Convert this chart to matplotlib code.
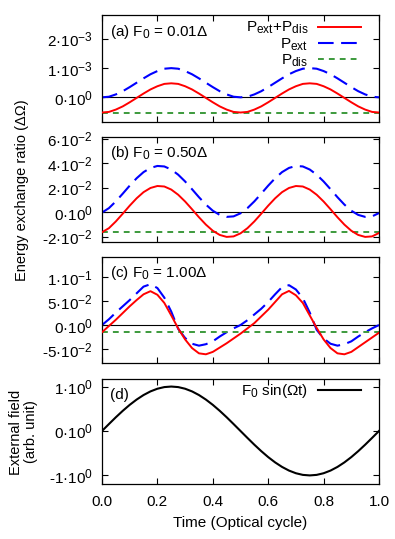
import numpy as np
import matplotlib
matplotlib.use("Agg")
import matplotlib.pyplot as plt
try:
    import matplotlib._mathtext as _mt
    _mt.SHRINK_FACTOR = 0.78
except Exception:
    pass

plt.rcParams['font.family'] = ['Liberation Sans', 'DejaVu Sans']
plt.rcParams['mathtext.fontset'] = 'custom'
plt.rcParams['mathtext.rm'] = 'Liberation Sans'
plt.rcParams['mathtext.it'] = 'Liberation Sans:italic'
plt.rcParams['mathtext.bf'] = 'Liberation Sans:bold'
FS = 11

# ---------------- data ----------------
time = np.linspace(0.0, 1.0, 41)   # optical cycle, step 0.025

# panel (a), units 1e-3
a_ext = [0.00, 0.02, 0.10, 0.21, 0.35, 0.50, 0.65, 0.79, 0.90, 0.98, 1.00, 0.98, 0.90, 0.79, 0.65, 0.50, 0.35, 0.21, 0.10, 0.02,
         0.00, 0.02, 0.10, 0.21, 0.35, 0.50, 0.65, 0.79, 0.90, 0.98, 1.00, 0.98, 0.90, 0.79, 0.65, 0.50, 0.35, 0.21, 0.10, 0.02, 0.00]
a_tot = [-0.52, -0.50, -0.42, -0.31, -0.17, -0.02, 0.13, 0.27, 0.38, 0.46, 0.48, 0.46, 0.38, 0.27, 0.13, -0.02, -0.17, -0.31, -0.42, -0.50,
         -0.52, -0.50, -0.42, -0.31, -0.17, -0.02, 0.13, 0.27, 0.38, 0.46, 0.48, 0.46, 0.38, 0.27, 0.13, -0.02, -0.17, -0.31, -0.42, -0.50, -0.52]
a_dis = [-0.52, -0.52]

# panel (b), units 1e-2
b_tot = [-1.62, -1.29, -0.74, -0.11, 0.54, 1.14, 1.64, 1.98, 2.14, 2.10, 1.85, 1.43, 0.88, 0.25, -0.40, -1.00, -1.50, -1.84, -2.00, -1.96,
         -1.71, -1.29, -0.74, -0.11, 0.54, 1.14, 1.64, 1.98, 2.14, 2.10, 1.85, 1.43, 0.88, 0.25, -0.40, -1.00, -1.50, -1.84, -2.00, -1.96, -1.68]
b_ext = [-0.02, 0.34, 0.89, 1.52, 2.17, 2.77, 3.27, 3.61, 3.77, 3.73, 3.48, 3.06, 2.51, 1.88, 1.23, 0.63, 0.13, -0.21, -0.37, -0.33,
         -0.08, 0.34, 0.89, 1.52, 2.17, 2.77, 3.27, 3.61, 3.77, 3.73, 3.48, 3.06, 2.51, 1.88, 1.23, 0.63, 0.13, -0.21, -0.37, -0.33, -0.06]
b_dis = [-1.63, -1.63]

# panel (c), units 1e-2
c_ext = [0.0, 1.2, 2.6, 3.9, 5.2, 6.6, 8.0, 8.5, 7.7, 5.7, 2.8, -0.8, -2.7, -3.9, -4.3, -4.0, -3.4, -2.4, -1.5, -0.7,
         0.0, 1.0, 2.2, 3.4, 4.8, 6.4, 7.9, 8.3, 7.4, 5.6, 2.6, -1.0, -2.8, -3.9, -4.3, -4.0, -3.4, -2.4, -1.5, -0.7, 0.0]
c_tot = [-1.5, -0.2, 1.1, 2.5, 3.9, 5.2, 6.4, 7.05, 6.3, 4.6, 2.0, -0.7, -3.0, -4.8, -5.9, -6.1, -5.6, -4.7, -3.8, -2.8,
         -1.8, -0.7, 0.4, 1.8, 3.2, 4.8, 6.4, 7.1, 6.2, 4.6, 2.0, -0.6, -3.0, -4.8, -5.9, -6.1, -5.6, -4.6, -3.6, -2.6, -1.6]
c_dis = [-1.55, -1.55]

# panel (d), external field (arb. unit)
d_field = [0.000, 0.156, 0.309, 0.454, 0.588, 0.707, 0.809, 0.891, 0.951, 0.988, 1.000, 0.988, 0.951, 0.891, 0.809, 0.707, 0.588, 0.454, 0.309, 0.156,
           0.000, -0.156, -0.309, -0.454, -0.588, -0.707, -0.809, -0.891, -0.951, -0.988, -1.000, -0.988, -0.951, -0.891, -0.809, -0.707, -0.588, -0.454, -0.309, -0.156, 0.000]

dis_time = [0.0, 1.0]

panel_labels = [r'(a) F$_0$ = 0.01Δ', r'(b) F$_0$ = 0.50Δ', r'(c) F$_0$ = 1.00Δ', '(d)']
xticks = [0.0, 0.2, 0.4, 0.6, 0.8, 1.0]
xticklabels = ['0.0', '0.2', '0.4', '0.6', '0.8', '1.0']

a_yticks = [0, 1e-3, 2e-3]
a_ylabels = ['0·10$^{0}$', '1·10$^{-3}$', '2·10$^{-3}$']
b_yticks = [-2e-2, 0, 2e-2, 4e-2, 6e-2]
b_ylabels = ['-2·10$^{-2}$', '0·10$^{0}$', '2·10$^{-2}$', '4·10$^{-2}$', '6·10$^{-2}$']
c_yticks = [-5e-2, 0, 5e-2, 1e-1]
c_ylabels = ['-5·10$^{-2}$', '0·10$^{0}$', '5·10$^{-2}$', '1·10$^{-1}$']
d_yticks = [-1, 0, 1]
d_ylabels = ['-1·10$^{0}$', '0·10$^{0}$', '1·10$^{0}$']

# ---------------- figure ----------------
W, H = 395, 539
fig = plt.figure(figsize=(W / 100, H / 100), dpi=100)

def px_axes(x0, y0, x1, y1):
    return fig.add_axes([x0 / W, 1 - y1 / H, (x1 - x0) / W, (y1 - y0) / H])

axA = px_axes(102, 15, 379, 121.7)
axB = px_axes(102, 136.7, 379, 241.7)
axC = px_axes(102, 257, 379, 362.7)
axD = px_axes(102, 379, 379, 484.3)

RED = '#ff0000'
BLUE = '#0000ff'
GREEN = '#3c9a3c'

def style(ax, yticks, ylabels, ylim, label, show_x=False):
    ax.set_xlim(0, 1)
    ax.set_ylim(*ylim)
    ax.set_xticks(xticks)
    ax.set_yticks(yticks)
    ax.set_yticklabels(ylabels)
    if show_x:
        ax.set_xticklabels(xticklabels)
    else:
        ax.set_xticklabels([])
    ax.tick_params(direction='in', length=4.5, width=0.8, top=True, right=True,
                   labelsize=FS, pad=6.5)
    ax.tick_params(axis='x', pad=8)
    for s in ax.spines.values():
        s.set_linewidth(0.9)
    ax.text(8 / 277, 1 - 16.5 / 106, label, transform=ax.transAxes,
            fontsize=FS, ha='left', va='center')

leg_kw = dict(loc='upper right', frameon=False, markerfirst=False, fontsize=FS,
              borderpad=0, borderaxespad=0, handlelength=2.8, handletextpad=0.65,
              labelspacing=0.0)

def three(ax, ext, tot, dis, scale):
    ax.axhline(0, color='black', lw=0.8, zorder=1)
    ax.plot(time, np.array(tot) * scale, color=RED, lw=1.4, label=r'P$_{\rm ext}$+P$_{\rm dis}$', zorder=3)
    ax.plot(time, np.array(ext) * scale, color=BLUE, lw=1.5, dashes=(7.5, 3.6), label=r'P$_{\rm ext}$', zorder=2)
    ax.plot(dis_time, np.array(dis) * scale, color=GREEN, lw=1.4, dashes=(3.0, 2.6), label=r'P$_{\rm dis}$', zorder=2)

three(axA, a_ext, a_tot, a_dis, 1e-3)
style(axA, a_yticks, a_ylabels, (-0.835e-3, 2.82e-3), panel_labels[0])
axA.legend(bbox_to_anchor=((361 - 102) / 277, 1 - (20 - 15) / 106.7), **leg_kw)

three(axB, b_ext, b_tot, b_dis, 1e-2)
style(axB, b_yticks, b_ylabels, (-2.39e-2, 6.15e-2), panel_labels[1])

three(axC, c_ext, c_tot, c_dis, 1e-2)
style(axC, c_yticks, c_ylabels, (-0.0785, 0.1417), panel_labels[2])

axD.plot(time, d_field, color='black', lw=1.5, label=r'F$_0$ sin(Ωt)')
style(axD, d_yticks, d_ylabels, (-1.2, 1.17), panel_labels[3], show_x=True)
axD.legend(bbox_to_anchor=((361 - 102) / 277, 1 - (382 - 379) / 105.3), **leg_kw)
axD.set_xlabel('Time (Optical cycle)', fontsize=FS, labelpad=5)

fig.text(22 / W, 1 - 190 / H, 'Energy exchange ratio (ΔΩ)', rotation=90,
         ha='center', va='center', fontsize=10.5)
fig.text(23.5 / W, 1 - 432 / H, 'External field\n(arb. unit)', rotation=90,
         ha='center', va='center', fontsize=10.5, multialignment='center', linespacing=1.1)

fig.savefig('out.png', dpi=100)
